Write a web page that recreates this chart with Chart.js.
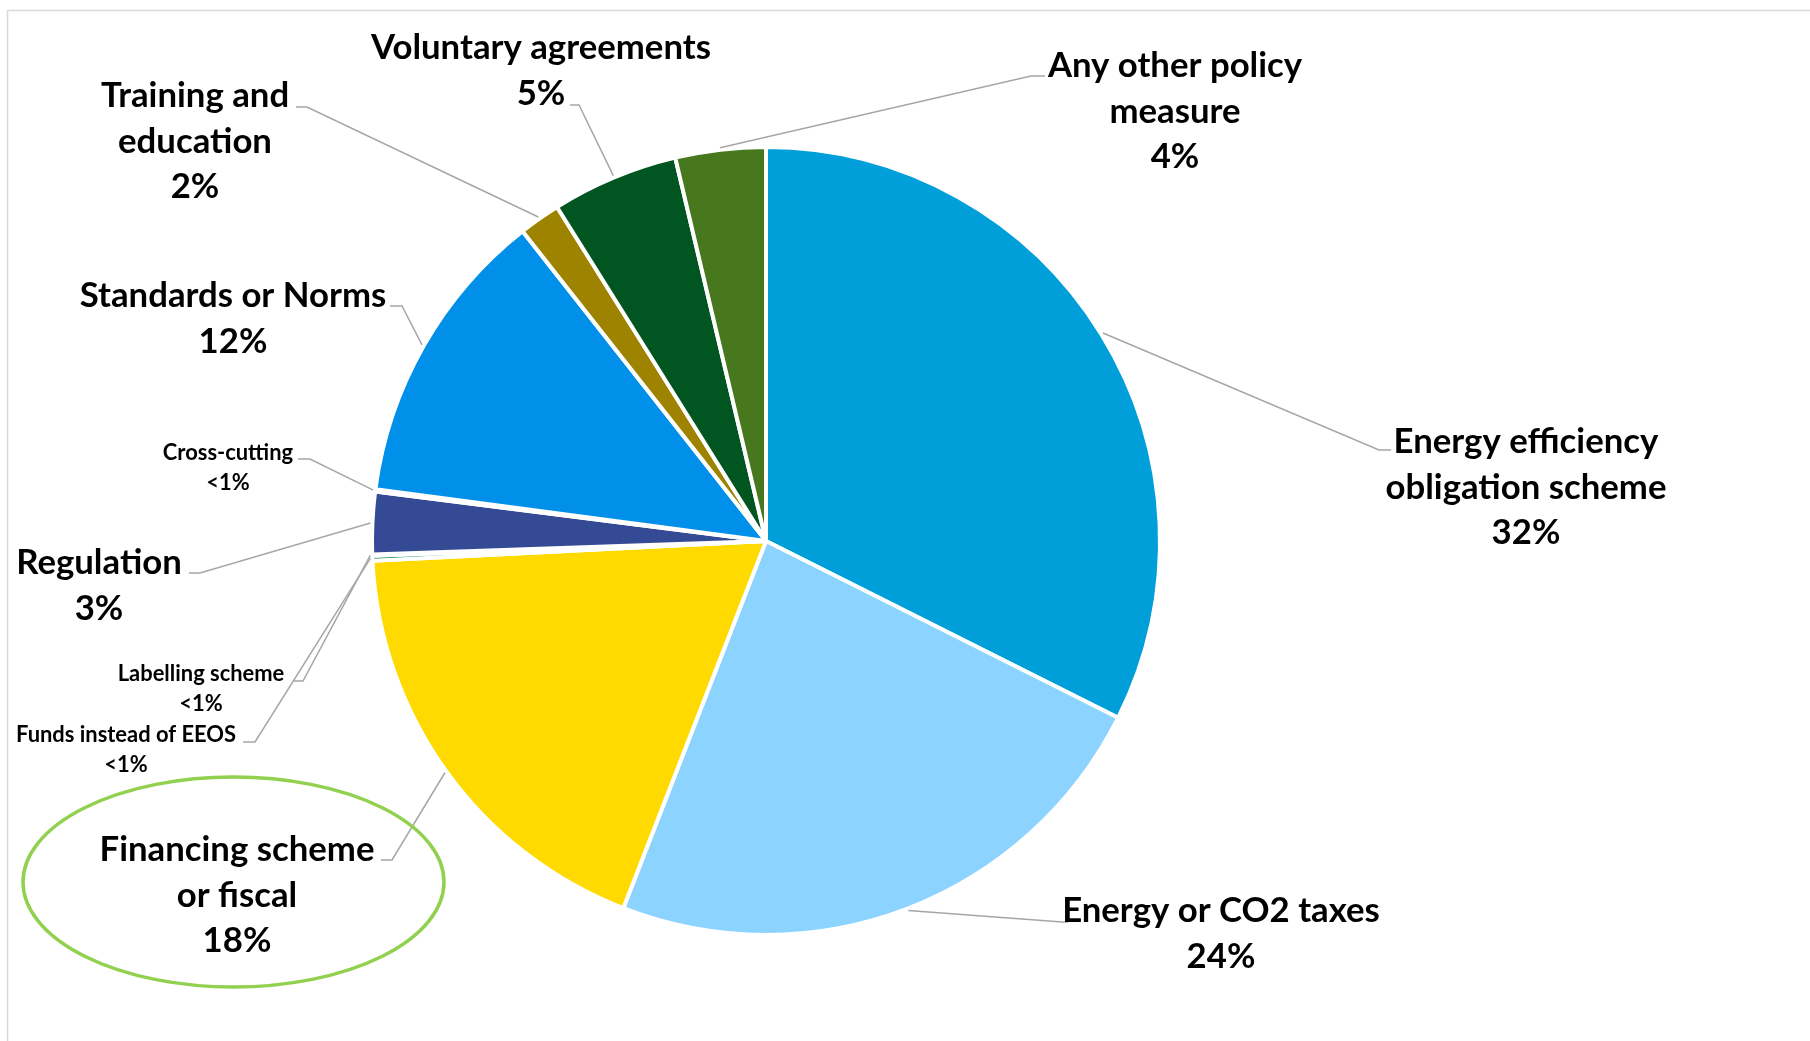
<!DOCTYPE html>
<html><head><meta charset="utf-8">
<script src="https://cdn.jsdelivr.net/npm/chart.js@4/dist/chart.umd.min.js"></script>
<style>html,body{margin:0;padding:0;background:#fff;overflow:hidden}canvas{display:block}</style>
</head><body>
<canvas id="c" width="1810" height="1041"></canvas>
<script>
// ---- data ----
const categories = ['Energy efficiency obligation scheme','Energy or CO2 taxes','Financing scheme or fiscal','Funds instead of EEOS','Labelling scheme','Regulation','Cross-cutting','Standards or Norms','Training and education','Voluntary agreements','Any other policy measure'];
const shares = [32.4, 23.5, 18.3, 0.2, 0.05, 2.55, 0.1, 12.3, 1.7, 5.2, 3.7];
const sliceColors = ['#009FDA','#8DD3FF','#FFDA00','#00873E','#7F7F7F','#354A94','#A5A5A5','#0090EA','#9D8300','#005520','#47781E'];

// ---- label layout (text wrapping + positions) ----
const labelLayout = [
  {lines:['Energy efficiency','obligation scheme'], x:1526, y:442, big:true, elbow:[1379,450], end:[1391,450]},
  {lines:['Energy or CO2 taxes'], x:1221, y:911, big:true, elbow:[1062,922], end:[1068,922]},
  {lines:['Financing scheme','or fiscal'], x:237, y:850, big:true, elbow:[392,860], end:[381,860]},
  {lines:['Funds instead of EEOS'], x:126, y:735, big:false, elbow:[255,742], end:[243,742]},
  {lines:['Labelling scheme'], x:201, y:674, big:false, elbow:[303,681], end:[293,681]},
  {lines:['Regulation'], x:99, y:563, big:true, elbow:[200,573], end:[189,573]},
  {lines:['Cross-cutting'], x:228, y:453, big:false, elbow:[310,459], end:[298,459]},
  {lines:['Standards or Norms'], x:233, y:296, big:true, elbow:[402,306], end:[390,306]},
  {lines:['Training and','education'], x:195, y:96, big:true, elbow:[307,107], end:[296,107]},
  {lines:['Voluntary agreements'], x:541, y:48, big:true, elbow:[579,105], end:[570,105]},
  {lines:['Any other policy','measure'], x:1175, y:66, big:true, elbow:[1031,76], end:[1045,76]}
];

const total = shares.reduce((a,b)=>a+b,0);
const percentTexts = shares.map(v => { const p = v/total*100; return p < 1 ? '<1%' : Math.round(p) + '%'; });

function fitSize(ctx, pairs){
  let s = 0;
  pairs.forEach(([t,w]) => { ctx.font = 'bold 100px Lato'; s += 100*w/ctx.measureText(t).width; });
  return s/pairs.length;
}

const overlay = {
  id:'overlay',
  afterDraw(chart){
    const ctx = chart.ctx;
    ctx.save();
    // frame
    ctx.strokeStyle = '#D9D9D9'; ctx.lineWidth = 1.5;
    ctx.beginPath(); ctx.moveTo(7.5, 1100); ctx.lineTo(7.5, 10.5); ctx.lineTo(1900, 10.5); ctx.stroke();

    const bigSize = fitSize(ctx, [['Energy efficiency',263],['Regulation',165],['Standards or Norms',308],['Voluntary agreements',342]]);
    const smallSize = fitSize(ctx, [['Funds instead of EEOS',219],['Labelling scheme',169],['Cross-cutting',129]]);

    const meta = chart.getDatasetMeta(0);
    meta.data.forEach((arc, i) => {
      const L = labelLayout[i];
      const mid = (arc.startAngle + arc.endAngle)/2;
      const r = arc.outerRadius + 2;
      const sx = arc.x + Math.cos(mid)*r, sy = arc.y + Math.sin(mid)*r;
      ctx.strokeStyle = '#A6A6A6'; ctx.lineWidth = 1.5;
      ctx.beginPath(); ctx.moveTo(sx, sy); ctx.lineTo(L.elbow[0], L.elbow[1]); ctx.lineTo(L.end[0], L.end[1]); ctx.stroke();
      const size = L.big ? bigSize : smallSize;
      const lh = L.big ? 45.5 : 30;
      ctx.fillStyle = '#000';
      ctx.font = 'bold ' + size.toFixed(2) + 'px Lato';
      ctx.textAlign = 'center'; ctx.textBaseline = 'middle';
      const lines = L.lines.concat([percentTexts[i]]);
      lines.forEach((t, k) => ctx.fillText(t, L.x, L.y + k*lh));
    });

    // highlight ellipse
    ctx.strokeStyle = '#92D050'; ctx.lineWidth = 3.5;
    ctx.beginPath(); ctx.ellipse(233.5, 882, 210.5, 105, 0, 0, Math.PI*2); ctx.stroke();
    ctx.restore();
  }
};

new Chart(document.getElementById('c'), {
  type:'pie',
  data:{ labels: categories, datasets:[{ data: shares, backgroundColor: sliceColors, borderColor:'#FFFFFF', borderWidth:4 }] },
  options:{
    responsive:false, animation:false, devicePixelRatio:1,
    layout:{ padding:{ left:370, top:145, right:648, bottom:104 } },
    plugins:{ legend:{display:false}, tooltip:{enabled:false} }
  },
  plugins:[overlay]
});
</script>
</body></html>
